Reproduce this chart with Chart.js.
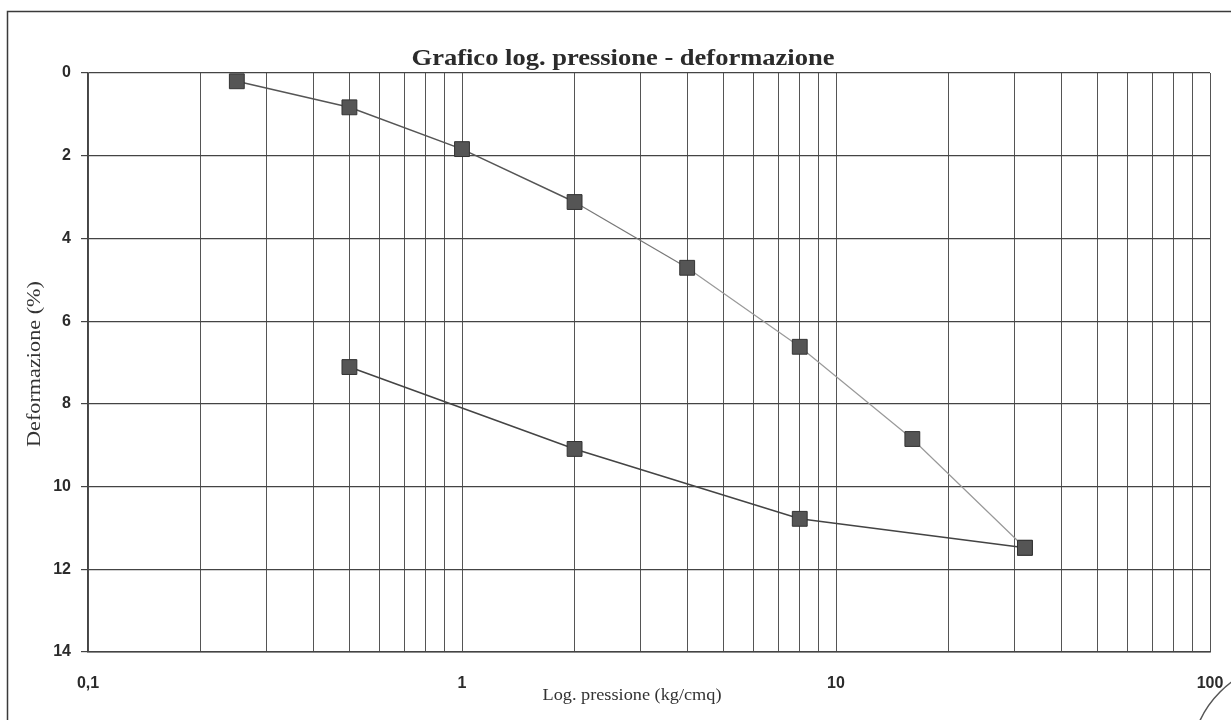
<!DOCTYPE html>
<html>
<head>
<meta charset="utf-8">
<script src="https://cdn.jsdelivr.net/npm/chart.js@4/dist/chart.umd.min.js"></script>
<style>
  html, body { margin: 0; padding: 0; background: #fff; }
  #wrap { width: 1231px; height: 720px; position: relative; }
</style>
</head>
<body>
<div id="wrap"><canvas id="c"></canvas></div>
<script>
// ---- data ----
const chartTitle = 'Grafico log. pressione - deformazione';
const xTitle = 'Log. pressione (kg/cmq)';
const yTitle = 'Deformazione (%)';

const loadPressure = [0.25, 0.5, 1, 2, 4, 8, 16, 32];
const loadDeformation = [0.2, 0.83, 1.84, 3.12, 4.71, 6.62, 8.85, 11.48];

const unloadPressure = [32, 8, 2, 0.5];
const unloadDeformation = [11.48, 10.78, 9.09, 7.11];

const xGridValues = [0.1,0.2,0.3,0.4,0.5,0.6,0.7,0.8,0.9,1,2,3,4,5,6,7,8,9,10,20,30,40,50,60,70,80,90,100];
const xLabelValues = [0.1, 1, 10, 100];
const xLabelTexts = ['0,1', '1', '10', '100'];
const yTickValues = [0, 2, 4, 6, 8, 10, 12, 14];

const toPoints = (xs, ys) => xs.map((x, i) => ({ x: x, y: ys[i] }));

function stretchedText(ctx, text, x, y, targetWidth, rotate) {
  ctx.save();
  ctx.translate(x, y);
  if (rotate) ctx.rotate(-Math.PI / 2);
  const w = ctx.measureText(text).width;
  ctx.scale(targetWidth / w, 1);
  ctx.textAlign = 'center';
  ctx.textBaseline = 'middle';
  ctx.fillText(text, 0, 0);
  ctx.restore();
}

const frame = {
  id: 'frame',
  beforeDraw(chart) {
    const ctx = chart.ctx;
    ctx.save();
    ctx.fillStyle = '#fff';
    ctx.fillRect(0, 0, chart.width, chart.height);
    ctx.strokeStyle = '#3a3a3a';
    ctx.lineWidth = 1.5;
    ctx.strokeRect(7.5, 11.5, 1300, 800);
    ctx.strokeStyle = '#555';
    ctx.lineWidth = 1.5;
    ctx.beginPath();
    ctx.arc(1290, 762, 99, Math.PI * 1.05, Math.PI * 1.45);
    ctx.stroke();
    ctx.restore();
  },
  afterDraw(chart) {
    const ctx = chart.ctx;
    ctx.save();
    ctx.fillStyle = '#2b2b2b';
    ctx.font = 'bold 23px "Liberation Serif", "DejaVu Serif", serif';
    stretchedText(ctx, chartTitle, 623, 59, 423, false);
    ctx.fillStyle = '#333';
    ctx.font = '17px "Liberation Serif", "DejaVu Serif", serif';
    stretchedText(ctx, xTitle, 632, 696, 179, false);
    ctx.font = '18px "Liberation Serif", "DejaVu Serif", serif';
    stretchedText(ctx, yTitle, 35, 364, 166, true);
    ctx.restore();
  }
};

new Chart(document.getElementById('c'), {
  type: 'scatter',
  data: {
    datasets: [
      {
        label: 'Carico',
        data: toPoints(loadPressure, loadDeformation),
        showLine: true,
        borderColor: '#555',
        borderWidth: 1.5,
        segment: {
          borderColor: ctx => ctx.p0DataIndex < 3 ? '#555' : (ctx.p0DataIndex < 4 ? '#777' : '#999'),
          borderWidth: ctx => ctx.p0DataIndex < 3 ? 1.5 : 1.2
        },
        pointStyle: 'rect',
        pointRadius: 10.5,
        pointHoverRadius: 10.5,
        pointBackgroundColor: '#555',
        pointBorderColor: '#333',
        pointBorderWidth: 1
      },
      {
        label: 'Scarico',
        data: toPoints(unloadPressure, unloadDeformation),
        showLine: true,
        borderColor: '#444',
        borderWidth: 1.6,
        pointStyle: 'rect',
        pointRadius: 10.5,
        pointHoverRadius: 10.5,
        pointBackgroundColor: '#555',
        pointBorderColor: '#333',
        pointBorderWidth: 1
      }
    ]
  },
  options: {
    responsive: true,
    maintainAspectRatio: false,
    animation: false,
    layout: { padding: { left: 0, right: 21, top: 73, bottom: 0 } },
    plugins: {
      legend: { display: false },
      title: { display: false },
      tooltip: { enabled: false }
    },
    scales: {
      x: {
        type: 'logarithmic',
        position: 'bottom',
        min: 0.1,
        max: 100,
        afterBuildTicks: s => { s.ticks = xGridValues.map(v => ({ value: v })); },
        afterFit: s => { s.height = 68; s.paddingLeft = 0; s.paddingRight = 0; },
        grid: { color: '#555', lineWidth: 1, drawTicks: false },
        border: { color: '#444', width: 1.5 },
        ticks: {
          autoSkip: false,
          maxRotation: 0,
          padding: 22,
          color: '#2b2b2b',
          font: { family: '"Liberation Sans", Arial, sans-serif', size: 16, weight: 'bold' },
          callback: function (v) {
            const i = xLabelValues.findIndex(d => Math.abs(d - v) < 1e-9);
            return i >= 0 ? xLabelTexts[i] : '';
          }
        }
      },
      y: {
        type: 'linear',
        position: 'left',
        reverse: true,
        min: 0,
        max: 14,
        afterBuildTicks: s => { s.ticks = yTickValues.map(v => ({ value: v })); },
        afterFit: s => { s.width = 88; },
        grid: { color: '#444', lineWidth: 1.2, drawTicks: true, tickLength: 7 },
        border: { color: '#444', width: 1.5 },
        title: { display: false },
        ticks: {
          padding: 10,
          color: '#2b2b2b',
          font: { family: '"Liberation Sans", Arial, sans-serif', size: 16, weight: 'bold' }
        }
      }
    }
  },
  plugins: [frame]
});
</script>
</body>
</html>
